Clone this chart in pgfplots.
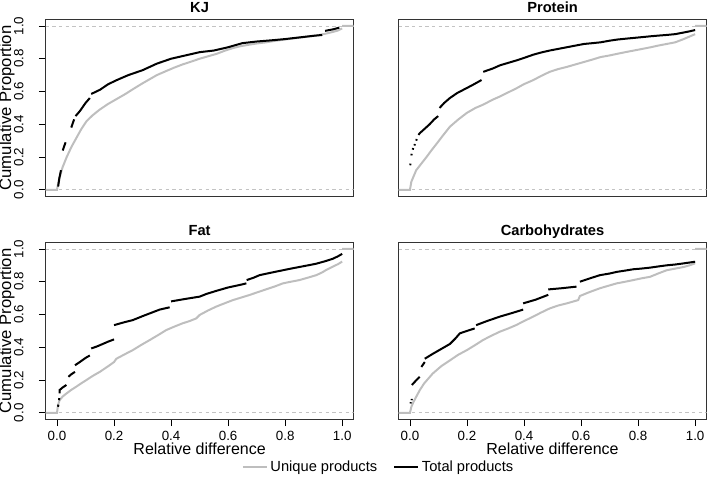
\documentclass[border=0pt]{standalone}
\usepackage{fontspec}
\setmainfont{Liberation Sans}
\usepackage{pgfplots}
\pgfplotsset{compat=1.18}
\definecolor{uniq}{RGB}{190,190,190}
\definecolor{refl}{RGB}{195,195,195}

\pgfplotsset{
  ecdf/.style={
    scale only axis, width=231pt, height=132.75pt,
    xmin=-0.04, xmax=1.04, ymin=-0.04, ymax=1.04,
    axis line style={draw=black!80, line width=0.8pt},
    tick align=outside, major tick length=5pt,
    tick style={black, line width=0.6pt},
    xtick pos=bottom, ytick pos=left,
    xtick={0,0.2,0.4,0.6,0.8,1}, ytick={0,0.2,0.4,0.6,0.8,1},
    unbounded coords=jump,
    /pgf/number format/assume math mode=true,
    title style={font=\bfseries\fontsize{11}{13}\selectfont, at={(0.5,1)}, anchor=base, yshift=-1pt},
    tick label style={font=\fontsize{10}{12}\selectfont},
    xticklabel style={/pgf/number format/.cd, fixed, fixed zerofill, precision=1},
    yticklabel shift=8pt,
    yticklabel style={rotate=90, /pgf/number format/.cd, fixed, fixed zerofill, precision=1},
    xlabel style={font=\fontsize{12}{14}\selectfont, at={(axis description cs:0.5,0)}, anchor=base, yshift=-26.5pt},
    ylabel style={font=\fontsize{12.5}{15}\selectfont, at={(axis description cs:-0.112,0.5)}, anchor=base, rotate=0},
  },
  uq/.style={uniq, line width=1.5pt, forget plot},
  tot/.style={black, line width=1.5pt, forget plot},
  rl/.style={refl, line width=0.6pt, dash pattern=on 2.5pt off 2.5pt, forget plot},
}

\begin{document}
\begin{tikzpicture}
\path[use as bounding box] (0,0) rectangle (531pt,358.5pt);

% KJ
\begin{axis}[ecdf, at={(34.2pt,343.95pt)}, anchor=north west,
  title={KJ}, ylabel={Cumulative Proportion}, xtick=\empty]
\addplot[rl] coordinates {(-0.04,0) (1.04,0)};
\addplot[rl] coordinates {(-0.04,1) (1.04,1)};
\addplot[uq] coordinates {
(-0.04,0) (0,0) (0.003,0.03) (0.01,0.08) (0.02,0.14) (0.034,0.20) (0.05,0.26)
(0.069,0.32) (0.085,0.37) (0.104,0.42) (0.125,0.455) (0.15,0.49) (0.18,0.525)
(0.21,0.555) (0.24,0.585) (0.267,0.615) (0.3,0.65) (0.325,0.675) (0.35,0.70)
(0.383,0.725) (0.41,0.745) (0.44,0.765) (0.47,0.782) (0.5,0.80) (0.53,0.815)
(0.56,0.83) (0.59,0.85) (0.617,0.865) (0.645,0.877) (0.675,0.886) (0.7,0.893)
(0.733,0.90) (0.76,0.908) (0.79,0.915) (0.82,0.922) (0.85,0.928) (0.88,0.935)
(0.91,0.942) (0.94,0.952) (0.966,0.963) (0.985,0.972) (1.0,0.985)
(1.0,nan) (1.0,1) (1.04,1)};
\addplot[tot] coordinates {
(0.004,0.02) (0.008,0.07) (0.014,0.12) (0.015,nan)
(0.02,0.24) (0.03,0.29) (0.04,nan)
(0.05,0.38) (0.06,0.43) (0.062,nan)
(0.065,0.45) (0.08,0.48) (0.1,0.53) (0.115,0.56) (0.117,nan)
(0.12,0.585) (0.15,0.61) (0.18,0.645) (0.21,0.67) (0.25,0.70) (0.3,0.73)
(0.35,0.77) (0.4,0.80) (0.45,0.82) (0.5,0.84) (0.55,0.85) (0.6,0.87)
(0.65,0.895) (0.7,0.905) (0.75,0.912) (0.8,0.92) (0.85,0.93) (0.9,0.94)
(0.93,0.945) (0.935,nan)
(0.94,0.97) (0.97,0.98) (0.99,0.99)};
\end{axis}

% Protein
\begin{axis}[ecdf, at={(298.9pt,343.95pt)}, anchor=north west,
  title={Protein}, xtick=\empty, ytick=\empty]
\addplot[rl] coordinates {(-0.04,0) (1.04,0)};
\addplot[rl] coordinates {(-0.04,1) (1.04,1)};
\addplot[uq] coordinates {
(-0.04,0) (0,0) (0.005,0.05) (0.022,0.12) (0.04,0.16) (0.058,0.20) (0.075,0.24)
(0.093,0.28) (0.115,0.33) (0.14,0.385) (0.17,0.43) (0.2,0.47) (0.23,0.50)
(0.257,0.52) (0.29,0.55) (0.316,0.57) (0.345,0.595) (0.374,0.62) (0.4,0.645)
(0.433,0.67) (0.46,0.695) (0.49,0.72) (0.52,0.737) (0.55,0.75) (0.58,0.765)
(0.61,0.78) (0.64,0.795) (0.668,0.81) (0.7,0.82) (0.727,0.83) (0.755,0.84)
(0.785,0.85) (0.815,0.86) (0.844,0.87) (0.87,0.88) (0.9,0.89) (0.93,0.90)
(0.96,0.92) (0.98,0.935) (1.0,0.95)
(1.0,nan) (1.0,1) (1.04,1)};
\addplot[tot] coordinates {
(0.001,0.15) (0.002,0.16) (0.003,nan)
(0.005,0.21) (0.006,0.22) (0.007,nan)
(0.01,0.245) (0.011,0.255) (0.012,nan)
(0.016,0.27) (0.017,0.28) (0.018,nan)
(0.022,0.30) (0.024,0.31) (0.026,nan)
(0.03,0.335) (0.034,0.345) (0.05,0.37) (0.069,0.40) (0.085,0.43) (0.099,0.45) (0.1,nan)
(0.104,0.50) (0.12,0.53) (0.14,0.56) (0.165,0.59) (0.187,0.61) (0.22,0.64) (0.251,0.67) (0.253,nan)
(0.257,0.72) (0.29,0.74) (0.316,0.76) (0.345,0.775) (0.374,0.79) (0.4,0.805)
(0.433,0.825) (0.46,0.838) (0.49,0.85) (0.52,0.86) (0.55,0.87) (0.58,0.88)
(0.61,0.89) (0.64,0.895) (0.668,0.90) (0.7,0.91) (0.727,0.917) (0.755,0.922)
(0.785,0.927) (0.815,0.932) (0.844,0.937) (0.87,0.941) (0.9,0.945)
(0.93,0.95) (0.96,0.96) (0.98,0.967) (1.0,0.975)};
\end{axis}

% Fat
\begin{axis}[ecdf, at={(34.2pt,176.7pt)}, anchor=north west,
  title={Fat}, ylabel={Cumulative Proportion}, xlabel={Relative difference},
  legend style={at={(axis description cs:1.082,-0.268)}, anchor=center,
    draw=none, fill=none, legend columns=2, font=\fontsize{11}{13}\selectfont,
    /tikz/every even column/.append style={column sep=10pt}},
  legend image code/.code={\draw[#1] (0pt,0pt) -- (18pt,0pt);}]
\addlegendimage{uniq, line width=1.5pt}
\addlegendentry{Unique products}
\addlegendimage{black, line width=1.5pt}
\addlegendentry{Total products}
\addplot[rl] coordinates {(-0.04,0) (1.04,0)};
\addplot[rl] coordinates {(-0.04,1) (1.04,1)};
\addplot[uq] coordinates {
(-0.04,0) (0,0) (0.0035,0.047) (0.009,0.077) (0.02,0.10) (0.033,0.118)
(0.05,0.14) (0.068,0.16) (0.085,0.18) (0.103,0.20) (0.125,0.225) (0.15,0.25)
(0.18,0.285) (0.2,0.31) (0.208,0.33) (0.235,0.355) (0.266,0.383) (0.295,0.414)
(0.325,0.444) (0.355,0.475) (0.383,0.505) (0.41,0.525) (0.44,0.546) (0.465,0.56)
(0.488,0.576) (0.5,0.597) (0.53,0.625) (0.558,0.648) (0.59,0.67) (0.617,0.688)
(0.645,0.703) (0.675,0.719) (0.705,0.737) (0.734,0.754) (0.765,0.772) (0.792,0.79)
(0.82,0.80) (0.85,0.81) (0.88,0.825) (0.909,0.84) (0.93,0.857) (0.944,0.872)
(0.967,0.892) (0.985,0.907) (1.0,0.923)
(1.0,nan) (1.0,1) (1.04,1)};
\addplot[tot] coordinates {
(0.0035,0.037) (0.005,0.05) (0.006,nan)
(0.007,0.077) (0.008,0.09) (0.0085,nan)
(0.009,0.118) (0.009,0.139) (0.02,0.155) (0.033,0.17) (0.035,nan)
(0.04,0.22) (0.05,0.235) (0.063,0.25) (0.0632,nan)
(0.063,0.29) (0.08,0.31) (0.1,0.335) (0.115,0.35) (0.117,nan)
(0.12,0.393) (0.14,0.405) (0.16,0.42) (0.18,0.435) (0.2,0.448) (0.2005,nan)
(0.2,0.535) (0.23,0.55) (0.266,0.566) (0.3,0.59) (0.33,0.61) (0.36,0.63) (0.395,0.644) (0.397,nan)
(0.4,0.68) (0.45,0.695) (0.5,0.709) (0.523,0.725) (0.56,0.745) (0.6,0.765)
(0.64,0.78) (0.664,0.79) (0.6645,nan)
(0.665,0.81) (0.69,0.825) (0.71,0.84) (0.75,0.855) (0.792,0.87) (0.82,0.88)
(0.85,0.89) (0.88,0.90) (0.909,0.91) (0.94,0.925) (0.967,0.94) (0.985,0.955) (1.0,0.97)};
\end{axis}

% Carbohydrates
\begin{axis}[ecdf, at={(298.9pt,176.7pt)}, anchor=north west,
  title={Carbohydrates}, xlabel={Relative difference}, ytick=\empty]
\addplot[rl] coordinates {(-0.04,0) (1.04,0)};
\addplot[rl] coordinates {(-0.04,1) (1.04,1)};
\addplot[uq] coordinates {
(-0.04,0) (0,0) (0.005,0.037) (0.012,0.065) (0.022,0.098) (0.035,0.14) (0.05,0.18)
(0.065,0.21) (0.08,0.24) (0.11,0.285) (0.14,0.32) (0.17,0.355) (0.2,0.383)
(0.23,0.415) (0.256,0.444) (0.285,0.47) (0.315,0.495) (0.345,0.515) (0.373,0.536)
(0.4,0.56) (0.432,0.587) (0.46,0.612) (0.49,0.637) (0.52,0.655) (0.55,0.668)
(0.59,0.688) (0.596,0.713) (0.63,0.737) (0.666,0.76) (0.695,0.775) (0.725,0.79)
(0.755,0.80) (0.783,0.81) (0.81,0.82) (0.842,0.83) (0.87,0.85) (0.9,0.87)
(0.93,0.88) (0.96,0.89) (0.98,0.90) (1.0,0.912)
(1.0,nan) (1.0,1) (1.04,1)};
\addplot[tot] coordinates {
(0.002,0.057) (0.003,0.065) (0.004,nan)
(0.006,0.077) (0.0065,0.085) (0.0068,nan)
(0.007,0.17) (0.02,0.195) (0.034,0.22) (0.036,nan)
(0.04,0.28) (0.046,0.295) (0.052,0.31) (0.0521,nan)
(0.052,0.33) (0.08,0.36) (0.11,0.39) (0.14,0.42) (0.16,0.455) (0.175,0.485)
(0.2,0.50) (0.227,0.515) (0.229,nan)
(0.232,0.535) (0.27,0.56) (0.315,0.587) (0.36,0.61) (0.397,0.63) (0.3975,nan)
(0.397,0.668) (0.44,0.69) (0.485,0.72) (0.4855,nan)
(0.485,0.753) (0.53,0.76) (0.584,0.77) (0.59,nan)
(0.596,0.80) (0.63,0.82) (0.666,0.84) (0.7,0.85) (0.725,0.86) (0.755,0.868)
(0.783,0.876) (0.81,0.88) (0.842,0.886) (0.87,0.893) (0.9,0.90) (0.93,0.905)
(0.96,0.912) (0.98,0.917) (1.0,0.922)};
\end{axis}
\end{tikzpicture}
\end{document}
